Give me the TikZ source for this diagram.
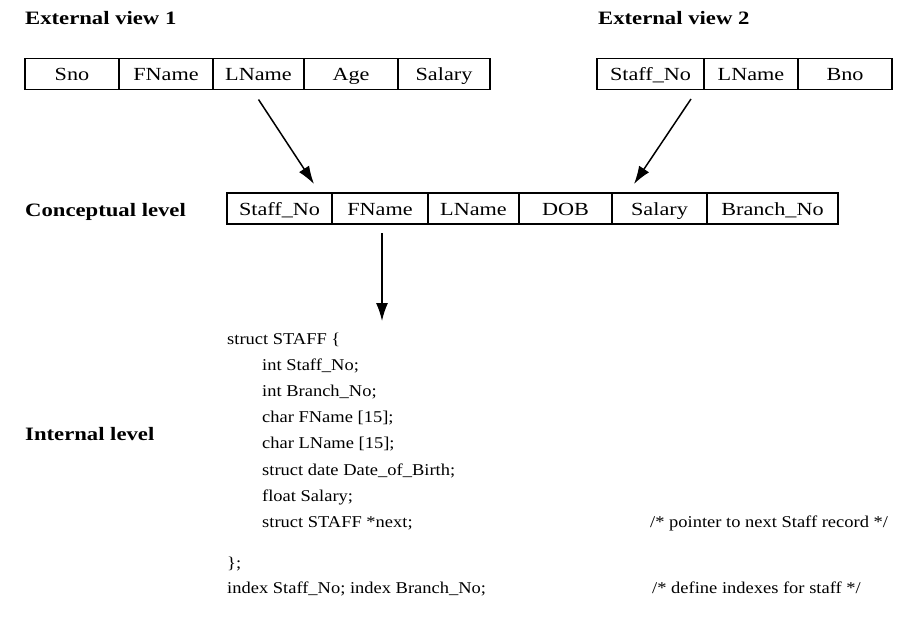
\documentclass[tikz,border=0pt]{standalone}
\usepackage{fontspec}
\setmainfont{Liberation Serif}
\newfontfamily\cellfont[FakeStretch=1.2]{Liberation Serif}
\newfontfamily\codefont[FakeStretch=1.12]{Liberation Serif}
\newfontfamily\lblfont[FakeStretch=1.2]{Liberation Serif}
\usetikzlibrary{arrows.meta,calc}
\begin{document}
\begin{tikzpicture}[x=1pt,y=-1pt,
  cell/.style={draw, line width=1.6pt, inner sep=0pt, outer sep=0pt, minimum height=31pt,
    text height=17pt, text depth=3pt, font=\cellfont\fontsize{18.5}{20}\selectfont, anchor=west},
  lbl/.style={anchor=base west, inner sep=0pt, font=\lblfont\bfseries\fontsize{18.9}{22}\selectfont},
  code/.style={anchor=base west, inner sep=0pt, font=\codefont\fontsize{16.5}{20}\selectfont},
  arr/.style={line width=1.5pt, -{Latex[length=18pt,width=12pt]}}]
\useasboundingbox (0,0) rectangle (916,623);

% labels
\node[lbl] (ev1) at (25,25) {External view 1};
\node[lbl] (ev2) at (598,25) {External view 2};
\node[lbl] (cl) at (25,216) {Conceptual level};
\node[lbl] (il) at (25,440) {Internal level};

% external view 1
\node[cell, minimum width=94pt] (v1sno) at (25,74) {Sno};
\node[cell, minimum width=94pt] (v1fname) at (v1sno.east) {FName};
\node[cell, minimum width=91pt] (v1lname) at (v1fname.east) {LName};
\node[cell, minimum width=94pt] (v1age) at (v1lname.east) {Age};
\node[cell, minimum width=92pt] (v1sal) at (v1age.east) {Salary};

% external view 2
\node[cell, minimum width=107pt] (v2staff) at (597,74) {Staff\_No};
\node[cell, minimum width=94pt] (v2lname) at (v2staff.east) {LName};
\node[cell, minimum width=94pt] (v2bno) at (v2lname.east) {Bno};

% conceptual
\node[cell, minimum width=105pt] (cstaff) at (227,208.5) {Staff\_No};
\node[cell, minimum width=96pt] (cfname) at (cstaff.east) {FName};
\node[cell, minimum width=91pt] (clname) at (cfname.east) {LName};
\node[cell, minimum width=93pt] (cdob) at (clname.east) {DOB};
\node[cell, minimum width=95pt] (csal) at (cdob.east) {Salary};
\node[cell, minimum width=131pt] (cbno) at (csal.east) {Branch\_No};

% internal code
\node[code] (c1) at (227,344) {struct STAFF \{};
\node[code] (c2) at (262,370.2) {int Staff\_No;};
\node[code] (c3) at (262,396.4) {int Branch\_No;};
\node[code] (c4) at (262,422.6) {char FName [15];};
\node[code] (c5) at (262,448.8) {char LName [15];};
\node[code] (c6) at (262,475) {struct date Date\_of\_Birth;};
\node[code] (c7) at (262,501.2) {float Salary;};
\node[code] (c8) at (262,527.4) {struct STAFF *next;};
\node[code] (m1) at (650,527.4) {/* pointer to next Staff record */};
\node[code] (c9) at (227,568) {\};};
\node[code] (c10) at (227,593) {index Staff\_No; index Branch\_No;};
\node[code] (m2) at (652,593) {/* define indexes for staff */};

% arrows
\coordinate (tip3) at (382,321);
\draw[arr] ($(v1lname.south)+(0,10)$) -- ($(cstaff.north east)+(-18,-9)$);
\draw[arr] ($(v2staff.south east)+(-13,9.5)$) -- ($(csal.north west)+(22,-9)$);
\draw[arr] ($(cfname.south)+(2,9)$) -- (tip3);
\end{tikzpicture}
\end{document}
